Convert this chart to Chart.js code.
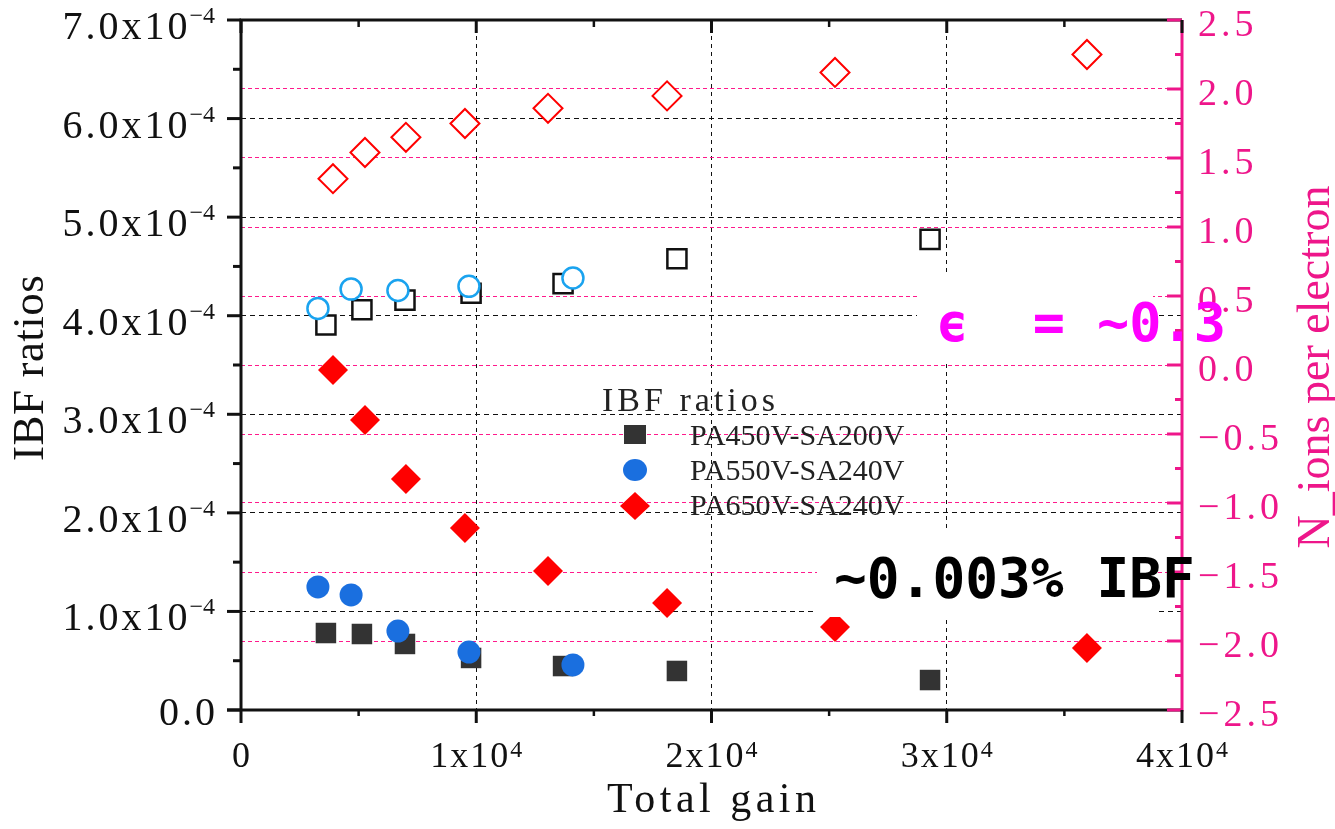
<!DOCTYPE html>
<html><head><meta charset="utf-8">
<script src="https://cdn.jsdelivr.net/npm/chart.js@4.4.1/dist/chart.umd.min.js"></script>
<style>html,body{margin:0;padding:0;background:#fff;overflow:hidden}canvas{display:block}</style>
</head><body>
<canvas id="c" width="1335" height="829"></canvas>
<script>
// ---------------- data ----------------
const seriesNames = ['PA450V-SA200V', 'PA550V-SA240V', 'PA650V-SA240V'];

const gainPA450  = [3610, 5140, 6970, 9780, 13690, 18530, 29290];
const ibfPA450   = [0.781e-4, 0.771e-4, 0.670e-4, 0.528e-4, 0.446e-4, 0.396e-4, 0.304e-4];
const nionsPA450 = [0.29, 0.40, 0.47, 0.52, 0.59, 0.77, 0.91];

const gainPA550  = [3270, 4680, 6670, 9690, 14110];
const ibfPA550   = [1.248e-4, 1.167e-4, 0.801e-4, 0.588e-4, 0.457e-4];
const nionsPA550 = [0.41, 0.55, 0.54, 0.57, 0.63];

const gainPA650  = [3910, 5270, 7010, 9520, 13050, 18110, 25250, 35960];
const ibfPA650   = [3.449e-4, 2.942e-4, 2.344e-4, 1.846e-4, 1.410e-4, 1.086e-4, 0.842e-4, 0.629e-4];
const nionsPA650 = [1.35, 1.54, 1.65, 1.75, 1.86, 1.95, 2.12, 2.25];

// tick labels
const leftTickValues = [0, 1e-4, 2e-4, 3e-4, 4e-4, 5e-4, 6e-4, 7e-4];
const leftTickMain   = ['0.0', '1.0x10', '2.0x10', '3.0x10', '4.0x10', '5.0x10', '6.0x10', '7.0x10'];
const leftTickExp    = ['', '\u22124', '\u22124', '\u22124', '\u22124', '\u22124', '\u22124', '\u22124'];
const xTickValues = [0, 10000, 20000, 30000, 40000];
const xTickMain   = ['0', '1x10', '2x10', '3x10', '4x10'];
const xTickExp    = ['', '4', '4', '4', '4'];
const rightTickValues = [-2.5, -2.0, -1.5, -1.0, -0.5, 0.0, 0.5, 1.0, 1.5, 2.0, 2.5];
const rightTickLabels = ['\u22122.5', '\u22122.0', '\u22121.5', '\u22121.0', '\u22120.5', '0.0', '0.5', '1.0', '1.5', '2.0', '2.5'];

const xTitle = 'Total gain';
const yTitle = 'IBF ratios';
const y1Title = 'N_ions per electron';
const legendTitle = 'IBF ratios';
const noteEps = '\u03F5  = ~0.3';
const noteIBF = '~0.003% IBF';

// ---------------- styling ----------------
const PINK = '#ee168a';
const PINK_GRID = '#ff1a8c';
const SERIF = '"Liberation Serif", "Times New Roman", serif';
const MONO = '"DejaVu Sans Mono", monospace';

const pts = (xs, ys) => xs.map((x, i) => ({x: x, y: ys[i]}));
const near = (a, b) => Math.abs(a - b) < 1e-9 * Math.max(1, Math.abs(b)) || Math.abs(a-b) < 1e-12;

function txt(ctx, s, x, y, font, color, align, sp) {
  sp = sp || 0;
  ctx.save();
  ctx.font = font; ctx.fillStyle = color; ctx.textBaseline = 'alphabetic';
  ctx.letterSpacing = sp + 'px';
  const w = ctx.measureText(s).width - sp;
  let x0 = x;
  if (align === 'center') x0 = x - w / 2; else if (align === 'right') x0 = x - w;
  ctx.textAlign = 'left';
  ctx.fillText(s, x0, y);
  ctx.restore();
}

function supLabel(ctx, main, exp, x, yMain, yExp, fMain, fExp, color, align, sp) {
  ctx.save();
  ctx.fillStyle = color; ctx.textAlign = 'left'; ctx.textBaseline = 'alphabetic';
  ctx.font = fMain; ctx.letterSpacing = sp + 'px';
  const w1 = ctx.measureText(main).width - sp;
  ctx.font = fExp; ctx.letterSpacing = '0px';
  const w2 = exp ? ctx.measureText(exp).width : 0;
  const gap = exp ? 2 : 0;
  const total = w1 + gap + w2;
  let x0 = x;
  if (align === 'center') x0 = x - total / 2; else if (align === 'right') x0 = x - total;
  ctx.font = fMain; ctx.letterSpacing = sp + 'px';
  ctx.fillText(main, x0, yMain);
  if (exp) { ctx.font = fExp; ctx.letterSpacing = '0px'; ctx.fillText(exp, x0 + w1 + gap, yExp); }
  ctx.restore();
}

function line(ctx, x1, y1, x2, y2, color, w) {
  ctx.save(); ctx.strokeStyle = color; ctx.lineWidth = w; ctx.setLineDash([]);
  ctx.beginPath(); ctx.moveTo(x1, y1); ctx.lineTo(x2, y2); ctx.stroke(); ctx.restore();
}

const deco = {
  id: 'deco',
  afterDatasetsDraw(chart) {
    const ctx = chart.ctx;
    ctx.save();
    ctx.fillStyle = '#ffffff';
    ctx.fillRect(917, 275, 1153 - 917, 362 - 275);
    ctx.fillRect(817, 532, 1157 - 817, 617 - 532);
    ctx.restore();
  },
  afterDraw(chart) {
    const ctx = chart.ctx;
    const ca = chart.chartArea;
    const sx = chart.scales.x, sy = chart.scales.y, sy1 = chart.scales.y1;
    const L = ca.left, R = ca.right, T = ca.top, B = ca.bottom;

    // black frame (left, top, bottom)
    line(ctx, L, T, L, B, '#111', 3);
    line(ctx, L - 1.5, T, R, T, '#111', 3);
    line(ctx, L - 14, B, R, B, '#111', 3);
    // left ticks (outward)
    for (let i = 0; i < leftTickValues.length; i++) {
      const py = sy.getPixelForValue(leftTickValues[i]);
      line(ctx, L - 14, py, L, py, '#111', 3);
      if (i < leftTickValues.length - 1) {
        const pm = sy.getPixelForValue((leftTickValues[i] + leftTickValues[i + 1]) / 2);
        line(ctx, L - 8, pm, L, pm, '#111', 3);
      }
    }
    // right axis (pink) with inward ticks
    line(ctx, R, T, R, B + 1.5, PINK, 3);
    for (let i = 0; i < rightTickValues.length; i++) {
      const py = sy1.getPixelForValue(rightTickValues[i]);
      line(ctx, R - 15, py, R, py, PINK, 3);
      if (i < rightTickValues.length - 1) {
        const pm = sy1.getPixelForValue((rightTickValues[i] + rightTickValues[i + 1]) / 2);
        line(ctx, R - 7, pm, R, pm, PINK, 3);
      }
    }
    // bottom & top ticks
    for (let i = 0; i < xTickValues.length; i++) {
      const px = sx.getPixelForValue(xTickValues[i]);
      line(ctx, px, B, px, B + 13, '#111', 3);
      line(ctx, px, T, px, T + 13, '#111', 3);
      if (i < xTickValues.length - 1) {
        const pm = sx.getPixelForValue((xTickValues[i] + xTickValues[i + 1]) / 2);
        line(ctx, pm, B, pm, B + 6, '#111', 2.5);
        line(ctx, pm, T, pm, T + 7, '#111', 2.5);
      }
    }

    // tick labels
    for (let i = 0; i < leftTickValues.length; i++) {
      const py = sy.getPixelForValue(leftTickValues[i]);
      const hasExp = !!leftTickExp[i];
      supLabel(ctx, leftTickMain[i], leftTickExp[i], 215, py + (hasExp ? 19 : 15), py + 3,
        '40px ' + SERIF, '24px ' + SERIF, '#111', 'right', 3);
    }
    for (let i = 0; i < xTickValues.length; i++) {
      const px = sx.getPixelForValue(xTickValues[i]);
      supLabel(ctx, xTickMain[i], xTickExp[i], px, 767, 757, '36px ' + SERIF, '24px ' + SERIF, '#111', 'center', 2);
    }
    for (let i = 0; i < rightTickValues.length; i++) {
      const py = sy1.getPixelForValue(rightTickValues[i]);
      txt(ctx, rightTickLabels[i], 1198, py + 15.5, '38px ' + SERIF, PINK, 'left', 4);
    }

    // axis titles
    txt(ctx, xTitle, (L + R) / 2, 812, '42px ' + SERIF, '#111', 'center', 4.5);
    ctx.save(); ctx.translate(43, 368); ctx.rotate(-Math.PI / 2);
    txt(ctx, yTitle, 0, 0, '45px ' + SERIF, '#111', 'center', 0.5);
    ctx.restore();
    ctx.save(); ctx.translate(1329, 367); ctx.rotate(-Math.PI / 2);
    txt(ctx, y1Title, 0, 0, '46px ' + SERIF, PINK, 'center', 0);
    ctx.restore();

    // legend (no frame, inside plot)
    txt(ctx, legendTitle, 602, 411, '34px ' + SERIF, '#222', 'left', 4);
    ctx.save();
    ctx.fillStyle = '#333'; ctx.fillRect(624, 425, 22, 19);
    ctx.fillStyle = '#1a6fdf'; ctx.beginPath(); ctx.ellipse(635, 470, 12, 11, 0, 0, Math.PI * 2); ctx.fill();
    ctx.fillStyle = '#ff0000'; ctx.beginPath();
    ctx.moveTo(635, 492); ctx.lineTo(650, 506); ctx.lineTo(635, 520); ctx.lineTo(620, 506); ctx.closePath(); ctx.fill();
    ctx.restore();
    txt(ctx, seriesNames[0], 690, 445, '30px ' + SERIF, '#222', 'left', 0);
    txt(ctx, seriesNames[1], 690, 480, '30px ' + SERIF, '#222', 'left', 0);
    txt(ctx, seriesNames[2], 690, 515, '30px ' + SERIF, '#222', 'left', 0);

    // annotations
    txt(ctx, noteEps, 936, 341, 'bold 53.5px ' + MONO, '#ff00ff', 'left', 0);
    txt(ctx, noteIBF, 834, 597, 'bold 54.5px ' + MONO, '#000000', 'left', 0);
  }
};

const blackGrid = (ctx) => {
  const v = ctx.tick ? ctx.tick.value : null;
  if (v === null) return '#111';
  const s = ctx.scale;
  return (near(v, s.min) || near(v, s.max)) ? 'rgba(0,0,0,0)' : '#111';
};
const pinkGrid = (ctx) => {
  const v = ctx.tick ? ctx.tick.value : null;
  if (v === null) return PINK_GRID;
  const s = ctx.scale;
  return (near(v, s.min) || near(v, s.max)) ? 'rgba(0,0,0,0)' : PINK_GRID;
};

new Chart(document.getElementById('c'), {
  type: 'scatter',
  data: {
    datasets: [
      {label: seriesNames[1], data: pts(gainPA550, ibfPA550), yAxisID: 'y', pointStyle: 'circle',
       pointRadius: 11.5, pointHoverRadius: 11.5, backgroundColor: '#1a6fdf', borderColor: '#1a6fdf', borderWidth: 0},
      {label: seriesNames[0], data: pts(gainPA450, ibfPA450), yAxisID: 'y', pointStyle: 'rect',
       pointRadius: 14.5, pointHoverRadius: 14.5, backgroundColor: '#333333', borderColor: '#333333', borderWidth: 0},
      {label: seriesNames[2], data: pts(gainPA650, ibfPA650), yAxisID: 'y', pointStyle: 'rectRot',
       pointRadius: 15, pointHoverRadius: 15, backgroundColor: '#ff0000', borderColor: '#ff0000', borderWidth: 0},
      {label: seriesNames[1] + ' N_ions', data: pts(gainPA550, nionsPA550), yAxisID: 'y1', pointStyle: 'circle',
       pointRadius: 10.5, pointHoverRadius: 10.5, backgroundColor: '#ffffff', borderColor: '#1aa3ef', borderWidth: 2.5},
      {label: seriesNames[0] + ' N_ions', data: pts(gainPA450, nionsPA450), yAxisID: 'y1', pointStyle: 'rect',
       pointRadius: 13.5, pointHoverRadius: 13.5, backgroundColor: '#ffffff', borderColor: '#111111', borderWidth: 2.5},
      {label: seriesNames[2] + ' N_ions', data: pts(gainPA650, nionsPA650), yAxisID: 'y1', pointStyle: 'rectRot',
       pointRadius: 14.5, pointHoverRadius: 14.5, backgroundColor: '#ffffff', borderColor: '#ff0000', borderWidth: 2}
    ]
  },
  options: {
    responsive: false,
    animation: false,
    devicePixelRatio: 1,
    layout: {padding: {top: 20, left: 0, right: 0, bottom: 0}},
    plugins: {legend: {display: false}, tooltip: {enabled: false}},
    events: [],
    scales: {
      x: {type: 'linear', position: 'bottom', min: 0, max: 40000,
          ticks: {stepSize: 10000, display: false},
          grid: {color: blackGrid, lineWidth: 1, drawTicks: false},
          border: {display: false, dash: [4, 4]},
          afterFit: (s) => { s.height = 119; }},
      y: {type: 'linear', position: 'left', min: 0, max: 7e-4,
          ticks: {stepSize: 1e-4, display: false},
          grid: {color: blackGrid, lineWidth: 1, drawTicks: false},
          border: {display: false, dash: [5, 4]},
          afterFit: (s) => { s.width = 241; }},
      y1: {type: 'linear', position: 'right', min: -2.5, max: 2.5,
          ticks: {stepSize: 0.5, display: false},
          grid: {color: pinkGrid, lineWidth: 1, drawTicks: false},
          border: {display: false, dash: [4, 3]},
          afterFit: (s) => { s.width = 153; }}
    }
  },
  plugins: [deco]
});
</script>
</body></html>
